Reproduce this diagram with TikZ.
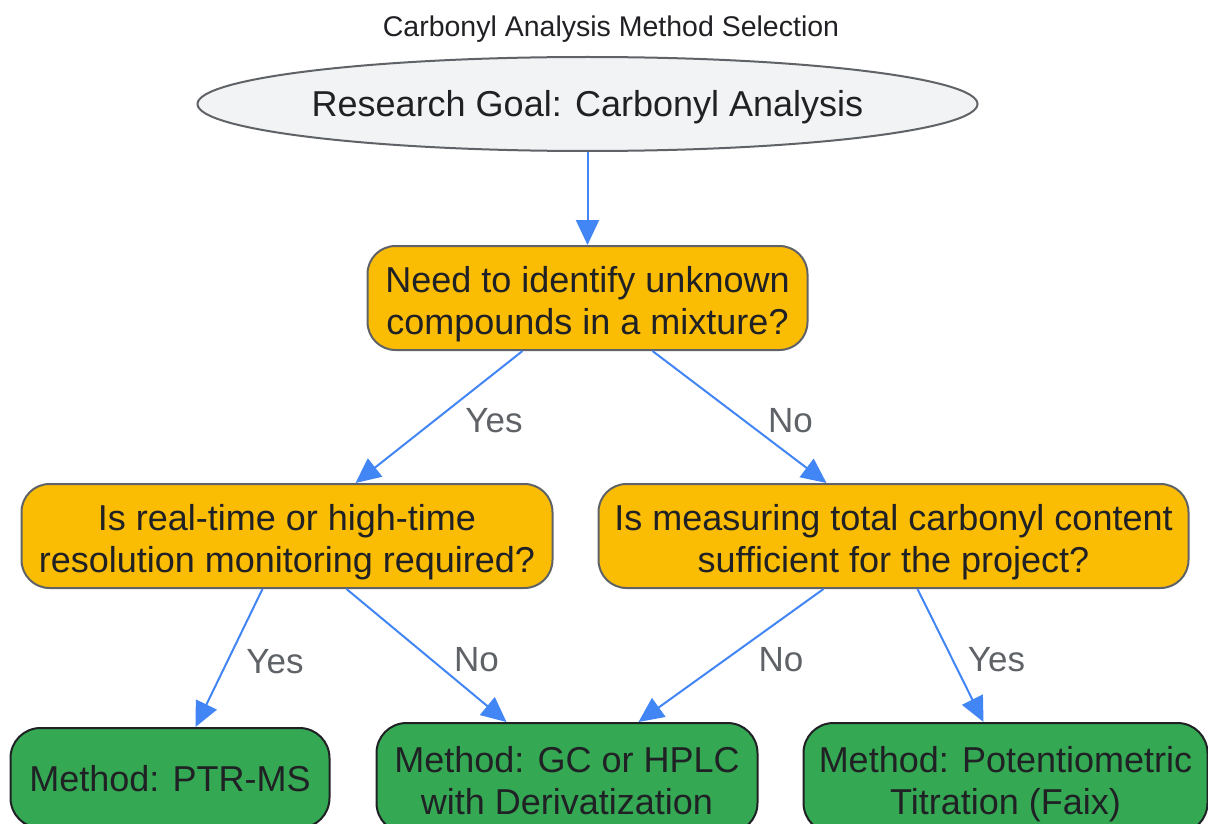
\documentclass[tikz,border=0pt]{standalone}
\usepackage{fontspec}
\setmainfont{Liberation Sans}
\usepackage{tikz}
\usetikzlibrary{shapes.geometric, arrows.meta, positioning}
\definecolor{goalcolor}{HTML}{F1F3F4}
\definecolor{questioncolor}{HTML}{FBBC04}
\definecolor{methodcolor}{HTML}{34A853}
\definecolor{edgecolor}{HTML}{4285F4}
\definecolor{bordercolor}{HTML}{5F6368}
\definecolor{inkcolor}{HTML}{202124}

\begin{document}
\begin{tikzpicture}[
    x=1pt, y=1pt,
    goal/.style={draw=bordercolor, line width=2pt, fill=goalcolor, ellipse, minimum width=771pt, minimum height=94pt, inner sep=0pt, text height=26pt, text depth=0pt, text=inkcolor, font=\fontsize{36}{42}\selectfont},
    question/.style={draw=bordercolor, line width=2pt, fill=questioncolor, rounded corners=28pt, minimum height=104pt, inner sep=0pt, text height=72pt, text depth=0pt, align=center, text=inkcolor, font=\fontsize{36}{42}\selectfont},
    method/.style={draw=inkcolor, line width=2pt, fill=methodcolor, rounded corners=30pt, minimum height=110pt, inner sep=0pt, text height=72pt, text depth=0pt, align=center, text=inkcolor, font=\fontsize{36}{42}\selectfont},
    arrow/.style={-{Triangle[length=25pt, width=23pt]}, line width=2pt, draw=edgecolor, fill=edgecolor},
    answer/.style={font=\fontsize{35}{40}\selectfont, text=bordercolor, yshift=-4pt}
]
    \useasboundingbox (0,0) rectangle (1208,-824);

    % Title
    \node[font=\fontsize{28.5}{34}\selectfont, text=inkcolor] (title) at (611,-29) {Carbonyl Analysis Method Selection};

    % Main entities
    \node[goal] (goal) at (587.5,-104) {Research Goal: Carbonyl Analysis};
    \node[question, minimum width=440pt, below=93pt of goal] (unknown) {Need to identify unknown\\compounds in a mixture?};
    \node[question, minimum width=531pt, below=132pt of unknown, xshift=-300.5pt] (realtime) {Is real-time or high-time\\resolution monitoring required?};
    \node[question, minimum width=590pt, below=132pt of unknown, xshift=306pt] (total) {Is measuring total carbonyl content\\sufficient for the project?};
    \node[method, minimum width=319pt, minimum height=100pt, text height=26pt, below=138pt of realtime, xshift=-117pt] (ptrms) {Method: PTR-MS};
    \node[method, minimum width=381pt, below=133pt of realtime, xshift=280pt] (gchplc) {Method: GC or HPLC\\with Derivatization};
    \node[method, minimum width=404pt, below=133pt of total, xshift=112pt] (titration) {Method: Potentiometric\\Titration (Faix)};

    % Relationships
    \draw[arrow] (goal.south) -- (unknown.north);
    \draw[arrow] ([xshift=-65pt]unknown.south) -- ([xshift=68.5pt]realtime.north) node[answer, midway, xshift=55pt] {Yes};
    \draw[arrow] ([xshift=65pt]unknown.south) -- ([xshift=-67pt]total.north) node[answer, midway, xshift=51pt] {No};
    \draw[arrow] ([xshift=-24.5pt]realtime.south) -- ([xshift=25.5pt]ptrms.north) node[answer, midway, xshift=46pt] {Yes};
    \draw[arrow] ([xshift=59.5pt]realtime.south) -- ([xshift=-60.5pt]gchplc.north) node[answer, midway, xshift=50pt] {No};
    \draw[arrow] ([xshift=-70pt]total.south) -- ([xshift=71.5pt]gchplc.north) node[answer, midway, xshift=50pt] {No};
    \draw[arrow] ([xshift=24pt]total.south) -- ([xshift=-22pt]titration.north) node[answer, midway, xshift=46pt] {Yes};
\end{tikzpicture}
\end{document}
